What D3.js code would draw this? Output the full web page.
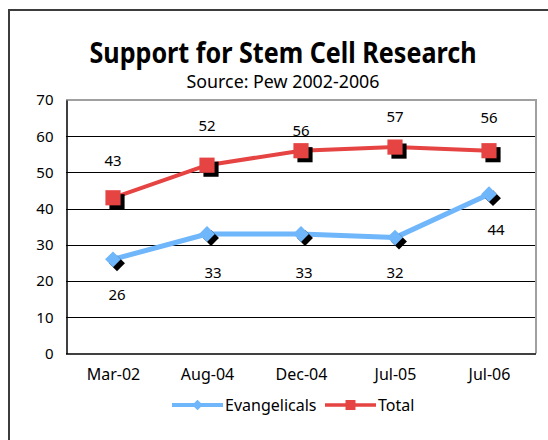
<!DOCTYPE html>
<html>
<head>
<meta charset="utf-8">
<script src="https://cdn.jsdelivr.net/npm/d3@7"></script>
<style>
  body { margin: 0; background: #fff; }
  svg { display: block; font-family: "Noto Sans", "Open Sans", sans-serif; }
</style>
</head>
<body>
<svg id="chart" width="548" height="440"></svg>
<script>
// Support for stem cell research, Pew 2002-2006
const categories = ["Mar-02", "Aug-04", "Dec-04", "Jul-05", "Jul-06"];
const evangelicals = [26, 33, 33, 32, 44];
const total = [43, 52, 56, 57, 56];
const yTicks = [0, 10, 20, 30, 40, 50, 60, 70];

// label nudges (px) as placed in the original
const totalLabelDy = [-37, -39, -20, -30, -33];
const evanLabelDx = [4, 6, 3, 0, 7];
const evanLabelDy = [35, 39, 39, 35, 36];

const svg = d3.select("#chart");
const m = { left: 66, right: 536, top: 100, bottom: 353.5 };

const x = d3.scalePoint().domain(categories).range([m.left, m.right]).padding(0.5);
const y = d3.scaleLinear().domain([0, 70]).range([m.bottom, m.top]);

// outer frame (runs off the right/bottom of the picture)
svg.append("rect")
  .attr("x", 9).attr("y", 10).attr("width", 700).attr("height", 600)
  .attr("fill", "none").attr("stroke", "#3c3c3c").attr("stroke-width", 2);

// title
svg.append("text")
  .attr("x", 283).attr("y", 63).attr("text-anchor", "middle")
  .attr("font-size", 28).attr("font-weight", "bold")
  .attr("textLength", 387).attr("lengthAdjust", "spacingAndGlyphs")
  .text("Support for Stem Cell Research");
svg.append("text")
  .attr("x", 283).attr("y", 88).attr("text-anchor", "middle")
  .attr("font-size", 18)
  .attr("textLength", 193).attr("lengthAdjust", "spacingAndGlyphs")
  .text("Source: Pew 2002-2006");

// gridlines
svg.append("g").selectAll("line")
  .data(yTicks.filter(d => d > 0 && d < 70))
  .join("line")
  .attr("x1", m.left).attr("x2", m.right)
  .attr("y1", d => Math.round(y(d)) + 0.5).attr("y2", d => Math.round(y(d)) + 0.5)
  .attr("stroke", "#000").attr("stroke-width", 1);

// plot frame: gray top/right, black left/bottom
svg.append("path")
  .attr("d", `M${m.left},${m.top}H${m.right}V${m.bottom}`)
  .attr("fill", "none").attr("stroke", "#a0a0a0").attr("stroke-width", 2);

const yAxis = svg.append("g")
  .attr("transform", `translate(${m.left + 0.5},0)`)
  .call(d3.axisLeft(y).tickValues(yTicks).tickSize(0).tickPadding(13));
yAxis.select(".domain").attr("stroke", "#000").attr("stroke-width", 1.5);
yAxis.selectAll("text").attr("font-size", 15).attr("fill", "#000")
  .attr("font-family", "Noto Sans, sans-serif");

const xAxis = svg.append("g")
  .attr("transform", `translate(0,${m.bottom})`)
  .call(d3.axisBottom(x).tickSize(0).tickPadding(15));
xAxis.select(".domain").attr("d", `M${m.left},0.5H${m.right}`)
  .attr("stroke", "#000").attr("stroke-width", 1.5);
xAxis.selectAll("text").attr("font-size", 16).attr("fill", "#000")
  .attr("font-family", "Noto Sans, sans-serif");

const blue = "#6fb6fb", red = "#e64343";
const line = d3.line().x((d, i) => x(categories[i])).y(d => y(d));

svg.append("path").datum(evangelicals).attr("d", line)
  .attr("fill", "none").attr("stroke", blue).attr("stroke-width", 5)
  .attr("stroke-linejoin", "round");
svg.append("path").datum(total).attr("d", line)
  .attr("fill", "none").attr("stroke", red).attr("stroke-width", 4)
  .attr("stroke-linejoin", "round");

const diamond = d3.symbol().type(d3.symbolDiamond2).size(160);
const square = d3.symbol().type(d3.symbolSquare).size(230);

function markers(data, sym, color) {
  const g = svg.append("g");
  g.selectAll(".shadow").data(data).join("path")
    .attr("class", "shadow")
    .attr("d", sym)
    .attr("transform", (d, i) => `translate(${x(categories[i]) + 4},${y(d) + 4})`)
    .attr("fill", "#000");
  g.selectAll(".mk").data(data).join("path")
    .attr("class", "mk")
    .attr("d", sym)
    .attr("transform", (d, i) => `translate(${x(categories[i])},${y(d)})`)
    .attr("fill", color);
}
markers(evangelicals, diamond, blue);
markers(total, square, red);

// data labels
svg.append("g").selectAll("text").data(total).join("text")
  .attr("x", (d, i) => x(categories[i]))
  .attr("y", (d, i) => y(d) + totalLabelDy[i])
  .attr("dy", "0.35em").attr("text-anchor", "middle").attr("font-size", 15)
  .text(d => d);
svg.append("g").selectAll("text").data(evangelicals).join("text")
  .attr("x", (d, i) => x(categories[i]) + evanLabelDx[i])
  .attr("y", (d, i) => y(d) + evanLabelDy[i])
  .attr("dy", "0.35em").attr("text-anchor", "middle").attr("font-size", 15)
  .text(d => d);

// legend
const legend = [
  { name: "Evangelicals", color: blue, sym: d3.symbol().type(d3.symbolDiamond2).size(70), x: 172, w: 4 },
  { name: "Total", color: red, sym: d3.symbol().type(d3.symbolSquare).size(100), x: 325, w: 3.5 }
];
const lg = svg.append("g").selectAll("g").data(legend).join("g")
  .attr("transform", d => `translate(${d.x},405)`);
lg.append("line").attr("x1", 0).attr("x2", 51)
  .attr("stroke", d => d.color).attr("stroke-width", d => d.w);
lg.append("path").attr("d", d => d.sym()).attr("transform", "translate(25.5,0)")
  .attr("fill", d => d.color);
lg.append("text").attr("x", 53).attr("dy", "0.35em").attr("font-size", 16)
  .text(d => d.name);
</script>
</body>
</html>
